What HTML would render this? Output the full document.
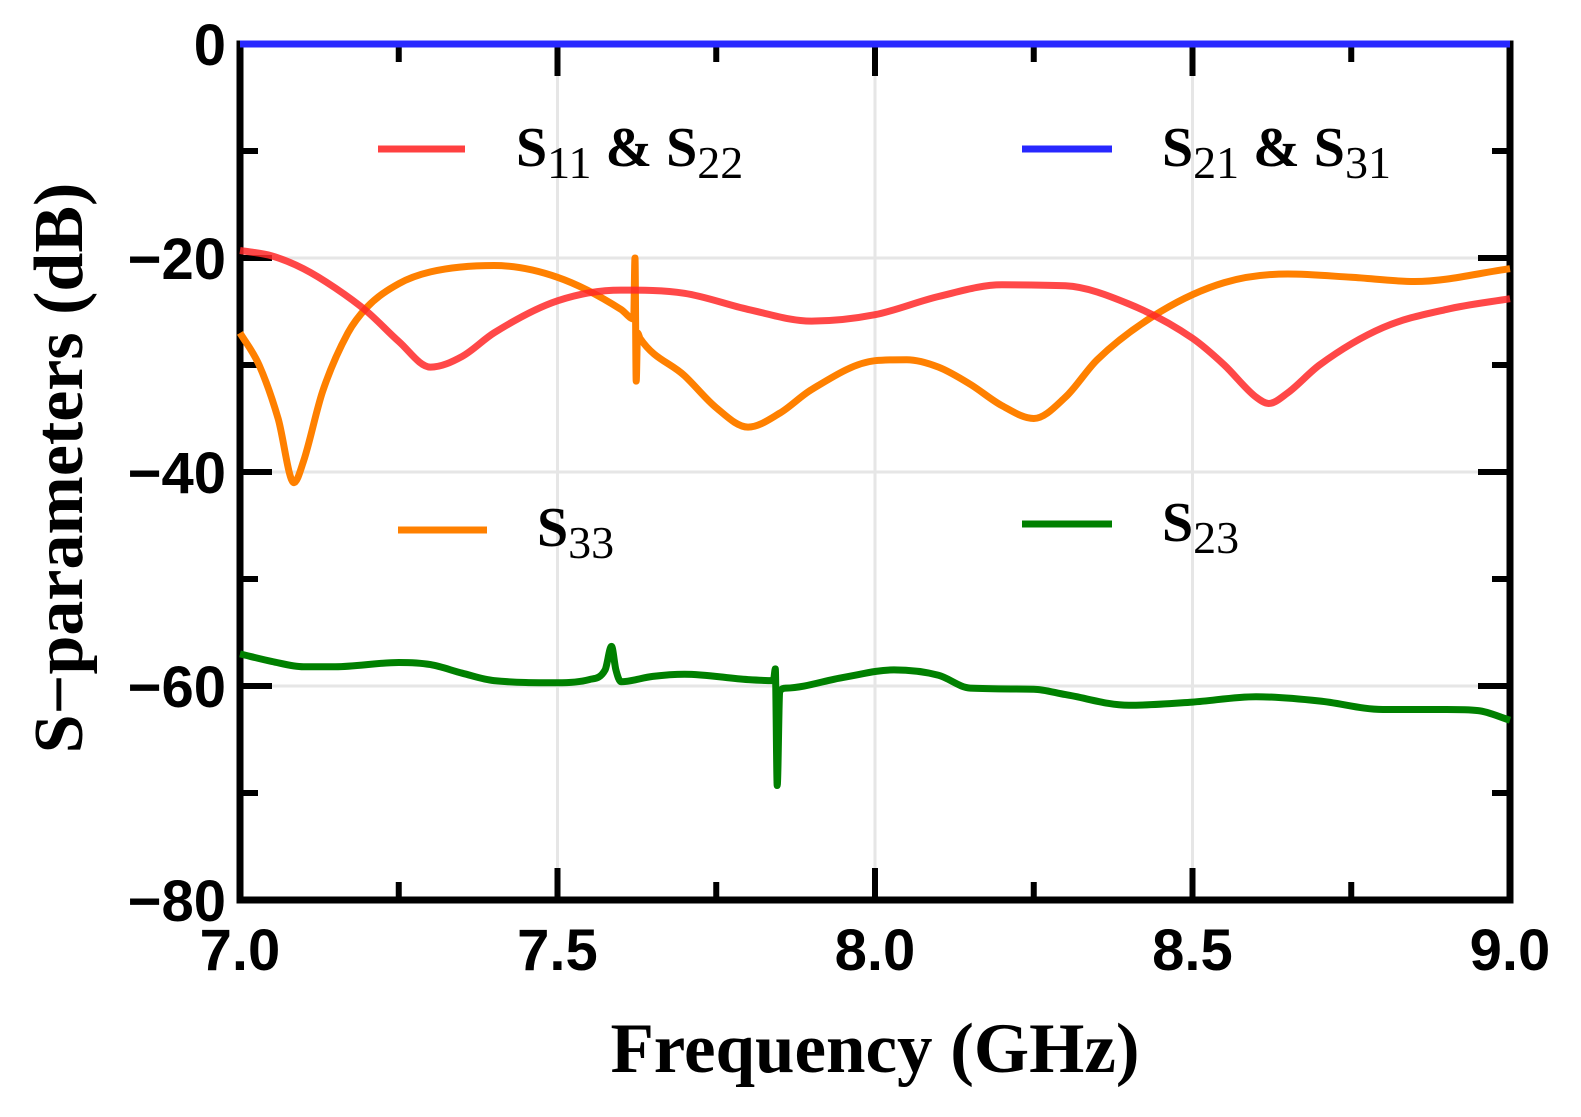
<!DOCTYPE html>
<html><head><meta charset="utf-8"><style>
body{margin:0;background:#fff;}
svg{display:block;}
.tick{font-family:"Liberation Sans",sans-serif;font-weight:bold;font-size:58px;fill:#000;}
.leg{font-family:"Liberation Serif",serif;font-weight:bold;font-size:56px;fill:#000;}
.sub{font-weight:normal;font-size:46px;}
.title{font-family:"Liberation Serif",serif;font-weight:bold;font-size:71px;fill:#000;}
</style></head><body>
<svg id="chart" width="1581" height="1117">
<g id="grid"></g>
<g id="axes"></g>
<g id="series"></g>
<g>
<g><line x1="378" y1="149" x2="465" y2="149" stroke="#ff4040" stroke-width="7"/><text class="leg" x="516" y="166">S<tspan class="sub" dy="12">11</tspan><tspan dy="-12"> &amp; S</tspan><tspan class="sub" dy="12">22</tspan></text></g>
<g><line x1="1022" y1="149" x2="1112" y2="149" stroke="#2828ff" stroke-width="7"/><text class="leg" x="1162" y="166">S<tspan class="sub" dy="12">21</tspan><tspan dy="-12"> &amp; S</tspan><tspan class="sub" dy="12">31</tspan></text></g>
<g><line x1="398" y1="530" x2="487" y2="530" stroke="#ff8000" stroke-width="7"/><text class="leg" x="537" y="546">S<tspan class="sub" dy="12">33</tspan></text></g>
<g><line x1="1022" y1="524" x2="1112" y2="524" stroke="#008000" stroke-width="7"/><text class="leg" x="1162" y="541">S<tspan class="sub" dy="12">23</tspan></text></g>
</g>
<text class="title" x="875" y="1072" text-anchor="middle">Frequency (GHz)</text>
<text class="title" transform="translate(82,468) rotate(-90)" text-anchor="middle" style="font-size:70px">S−parameters (dB)</text>
</svg>
<script>
const xTicks=[7.0,7.5,8.0,8.5,9.0];
const xTickLabels=["7.0","7.5","8.0","8.5","9.0"];
const yTicks=[0,-20,-40,-60,-80];
const yTickLabels=["0","−20","−40","−60","−80"];
const s11Freq=[7.0,7.05,7.1,7.15,7.2,7.25,7.3,7.35,7.4,7.5,7.6,7.7,7.8,7.9,8.0,8.1,8.2,8.3,8.4,8.5,8.55,8.6,8.62,8.65,8.7,8.8,8.9,9.0];
const s11Vals=[-19.3,-19.8,-21,-22.8,-25,-27.8,-30.2,-29.2,-27,-24,-23,-23.3,-24.8,-25.9,-25.3,-23.6,-22.5,-22.6,-24.3,-27.5,-30,-33,-33.6,-32.6,-30,-26.5,-24.8,-23.8];
const s33Freq=[7.0,7.03,7.06,7.085,7.1,7.13,7.17,7.2,7.25,7.3,7.4,7.5,7.6,7.62,7.622,7.624,7.626,7.63,7.7,7.75,7.8,7.85,7.9,8.0,8.05,8.1,8.15,8.2,8.25,8.3,8.35,8.45,8.55,8.65,8.75,8.85,9.0];
const s33Vals=[-27,-30,-35,-41,-39,-32.5,-27,-24.6,-22.4,-21.3,-20.7,-21.8,-24.8,-25.7,-20,-31.5,-27,-27.5,-31,-34,-35.8,-34.5,-32.3,-29.6,-29.5,-30.2,-31.8,-33.8,-35,-33,-29.5,-25,-22.3,-21.5,-21.8,-22.2,-21];
const s23Freq=[7.0,7.05,7.1,7.15,7.25,7.3,7.35,7.4,7.5,7.55,7.575,7.585,7.592,7.6,7.65,7.7,7.8,7.84,7.843,7.846,7.85,7.86,7.95,8.03,8.1,8.15,8.25,8.3,8.4,8.5,8.6,8.7,8.8,8.9,8.95,9.0];
const s23Vals=[-57,-57.7,-58.2,-58.2,-57.8,-58,-58.8,-59.5,-59.7,-59.4,-58.5,-56.3,-58.5,-59.6,-59.1,-58.9,-59.4,-59.5,-58.4,-69.3,-60.5,-60.2,-59.2,-58.5,-59,-60.2,-60.3,-60.8,-61.8,-61.5,-61,-61.4,-62.2,-62.2,-62.3,-63.2];
const s21Freq=[7.0,9.0];
const s21Vals=[0,0];
const NS="http://www.w3.org/2000/svg";
const X0=240,X1=1510,Y0=44,Y1=900;
function xs(f){return X0+(f-7)/(2)*(X1-X0);}
function ys(v){return Y0+(0-v)/80*(Y1-Y0);}
function mk(tag,attrs,parent){const e=document.createElementNS(NS,tag);for(const k in attrs)e.setAttribute(k,attrs[k]);parent.appendChild(e);return e;}
const grid=document.getElementById('grid'),axes=document.getElementById('axes'),ser=document.getElementById('series');
xTicks.forEach((t,i)=>{
  if(i>0&&i<xTicks.length-1){const g=mk('line',{x1:xs(t),x2:xs(t),y1:Y0,y2:Y1,stroke:'#e6e6e6','stroke-width':3},grid);
  
  }
  const l=mk('text',{x:xs(t),y:970,'text-anchor':'middle',class:'tick'},axes);l.textContent=xTickLabels[i];
  
  
});
yTicks.forEach((t,i)=>{
  if(i>0&&i<yTicks.length-1){const g=mk('line',{x1:X0,x2:X1,y1:ys(t),y2:ys(t),stroke:'#e6e6e6','stroke-width':3},grid);
  
  }
  const l=mk('text',{x:226,y:ys(t)+21,'text-anchor':'end',class:'tick'},axes);l.textContent=yTickLabels[i];
  
  
});
for(let f=7.0;f<=9.001;f+=0.25){const major=Math.abs(f*2-Math.round(f*2))<1e-6;const len=major?32:18;
  mk('line',{x1:xs(f),x2:xs(f),y1:Y1,y2:Y1-len,stroke:'#000','stroke-width':6},axes);
  mk('line',{x1:xs(f),x2:xs(f),y1:Y0,y2:Y0+len,stroke:'#000','stroke-width':6},axes);}
for(let v=0;v>=-80;v-=10){const major=v%20===0;const len=major?32:18;
  mk('line',{x1:X0,x2:X0+len,y1:ys(v),y2:ys(v),stroke:'#000','stroke-width':6},axes);
  mk('line',{x1:X1,x2:X1-len,y1:ys(v),y2:ys(v),stroke:'#000','stroke-width':6},axes);}
const fr=mk('rect',{x:X0,y:Y0,width:X1-X0,height:Y1-Y0,fill:'none',stroke:'#000','stroke-width':7},axes);


function smoothPath(fx,vals){
  const px=fx.map(xs),py=vals.map(ys),n=px.length;
  if(n<3)return 'M'+px[0]+','+py[0]+' L'+px[1]+','+py[1];
  const d=[],m=[];
  for(let i=0;i<n-1;i++)d.push((py[i+1]-py[i])/(px[i+1]-px[i]));
  m[0]=d[0];m[n-1]=d[n-2];
  for(let i=1;i<n-1;i++){m[i]=(d[i-1]*d[i]<=0)?0:(d[i-1]+d[i])/2;}
  for(let i=0;i<n-1;i++){if(d[i]===0){m[i]=0;m[i+1]=0;continue;}
    const a=m[i]/d[i],b=m[i+1]/d[i],s=a*a+b*b;if(s>9){const t=3/Math.sqrt(s);m[i]=t*a*d[i];m[i+1]=t*b*d[i];}}
  let p='M'+px[0].toFixed(1)+','+py[0].toFixed(1);
  for(let i=0;i<n-1;i++){const h=(px[i+1]-px[i])/3;
    p+=' C'+(px[i]+h).toFixed(1)+','+(py[i]+m[i]*h).toFixed(1)+' '+(px[i+1]-h).toFixed(1)+','+(py[i+1]-m[i+1]*h).toFixed(1)+' '+px[i+1].toFixed(1)+','+py[i+1].toFixed(1);}
  return p;
}
function line(fx,vals,color,name){
  const p=mk('path',{d:smoothPath(fx,vals),fill:'none',stroke:color,'stroke-width':7,'stroke-linejoin':'round','stroke-linecap':'butt'},ser);
  
  
}
line(s23Freq,s23Vals,'#008000','s23-line');
line(s33Freq,s33Vals,'#ff8000','s33-line');
line(s11Freq,s11Vals,'rgba(255,40,40,0.85)','s11-s22-line');
line(s21Freq,s21Vals,'#2828ff','s21-s31-line');
</script>
</body></html>
